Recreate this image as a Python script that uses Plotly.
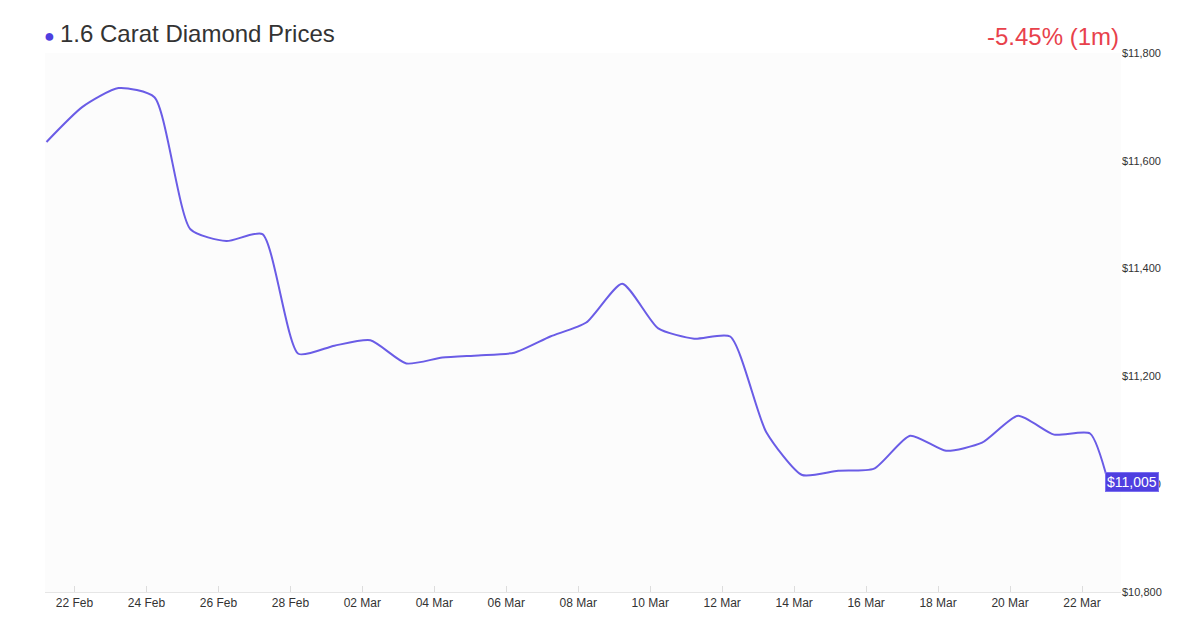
import plotly.graph_objects as go
import pandas as pd

start = pd.Timestamp("2023-02-21 05:20")
prices = [11635, 11700, 11735, 11718, 11473, 11451, 11464, 11242, 11257, 11267,
          11224, 11235, 11239, 11244, 11274, 11300, 11372, 11289, 11270, 11274,
          11097, 11017, 11025, 11029, 11090, 11062, 11077, 11127, 11092, 11094]
dates = [start + pd.Timedelta(days=i) for i in range(len(prices))]
last_date = start + pd.Timedelta(days=29.5)
last_price = 11005
dates.append(last_date); prices.append(last_price)
title = "1.6 Carat Diamond Prices"
change = "-5.45% (1m)"
tick_vals = list(range(10800, 11801, 200))
tick_dates = pd.date_range("2023-02-22", "2023-03-22", freq="2D")

W, H = 1076, 539
color = "#6a5ce6"
fig = go.Figure()
fig.add_trace(go.Scatter(x=dates, y=prices, mode="lines",
                         line=dict(color=color, width=2, shape="spline", smoothing=0.6),
                         hoverinfo="skip"))
fig.update_layout(
    width=1200, height=630, paper_bgcolor="white", plot_bgcolor="#fcfcfc",
    margin=dict(l=37, r=87, t=45, b=46, autoexpand=False), showlegend=False,
    font=dict(family="Liberation Sans, Arial", color="#333"),
    xaxis=dict(range=[pd.Timestamp("2023-02-21 04:20"), pd.Timestamp("2023-03-23 02:00")],
               tickvals=list(tick_dates), ticktext=[d.strftime("%d %b") for d in tick_dates],
               showgrid=False, ticks="inside", ticklen=6, tickcolor="#ddd", automargin=False,
               showline=True, linecolor="#e6e6e6", tickfont=dict(size=12, color="#333"),
               zeroline=False),
    yaxis=dict(range=[10800, 11800], side="right", tickvals=tick_vals, automargin=False,
               ticktext=[f"${v:,}" for v in tick_vals], showgrid=False, zeroline=False,
               tickfont=dict(size=11, color="#333")),
    annotations=[
        dict(text=title, x=(50-37)/W, y=1+(45-26)/H, xref="paper", yref="paper", showarrow=False,
             font=dict(size=24, color="#333"), xanchor="left", yanchor="middle"),
        dict(text=change, x=1.0, y=1+(45-29)/H, xref="paper", yref="paper", showarrow=False,
             font=dict(size=24, color="#e8414b"), xanchor="right", yanchor="middle"),
        dict(text=f"${last_price:,}", x=1.0, y=last_price, xref="paper", yref="y",
             showarrow=False, xanchor="left", xshift=-16, bgcolor="#4f3fe0",
             bordercolor="#7b6ff0", borderwidth=1, font=dict(size=14, color="white"), borderpad=1),
        dict(text="●", x=(41-37)/W, y=1+(45-28)/H, xref="paper", yref="paper",
             showarrow=False, font=dict(size=18, color="#4f3fe0"), xanchor="center", yanchor="middle"),
    ],
)
fig.write_html("out.html")
